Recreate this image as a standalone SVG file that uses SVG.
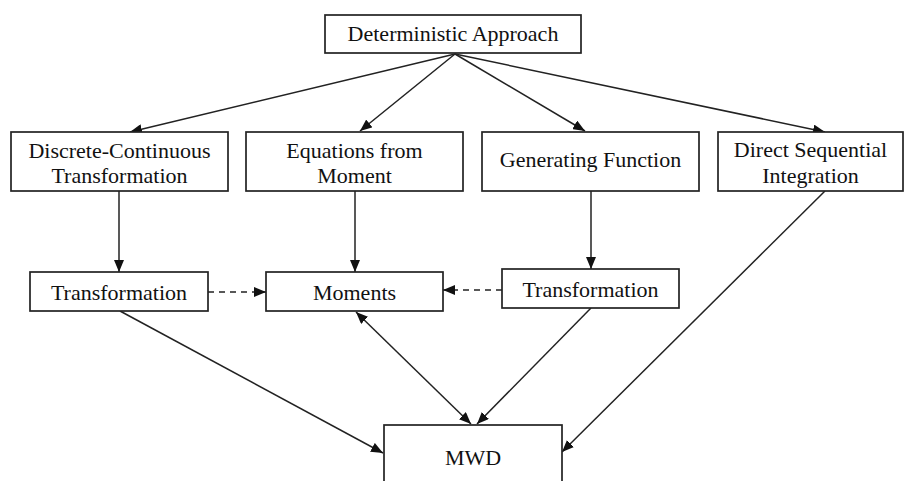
<svg xmlns="http://www.w3.org/2000/svg" width="924" height="481" viewBox="0 0 924 481">
<style>
.box{fill:#fff;stroke:#222;stroke-width:1.7}
.t{font-family:"Liberation Serif","Times New Roman",serif;font-size:22px;fill:#111;text-anchor:middle}
.c{stroke:#222;stroke-width:1.5;fill:none}
.d{stroke-dasharray:6,5}
</style>
<defs>
<marker id="ah" viewBox="0 0 12 10" refX="12" refY="5" markerWidth="12" markerHeight="10" markerUnits="userSpaceOnUse" orient="auto-start-reverse">
<path d="M0,0 L12,5 L0,10 Z" fill="#111"/>
</marker>
</defs>
<rect width="924" height="481" fill="#fff"/>
<g id="connectors">
<line class="c" x1="455" y1="54" x2="130" y2="132" marker-end="url(#ah)"/>
<line class="c" x1="455" y1="54" x2="360" y2="131" marker-end="url(#ah)"/>
<line class="c" x1="455" y1="54" x2="585" y2="131" marker-end="url(#ah)"/>
<line class="c" x1="455" y1="54" x2="825" y2="132" marker-end="url(#ah)"/>
<line class="c" x1="119" y1="191" x2="119" y2="272" marker-end="url(#ah)"/>
<line class="c" x1="355" y1="191" x2="355" y2="272" marker-end="url(#ah)"/>
<line class="c" x1="591" y1="191" x2="591" y2="269" marker-end="url(#ah)"/>
<line class="c d" x1="208" y1="292" x2="266" y2="292" marker-end="url(#ah)"/>
<line class="c d" x1="502" y1="290" x2="443" y2="290" marker-end="url(#ah)"/>
<line class="c" x1="120" y1="311" x2="383" y2="453" marker-end="url(#ah)"/>
<line class="c" x1="356" y1="312" x2="471" y2="424" marker-start="url(#ah)" marker-end="url(#ah)"/>
<line class="c" x1="591" y1="308" x2="477" y2="424" marker-end="url(#ah)"/>
<line class="c" x1="825" y1="191" x2="562" y2="452" marker-end="url(#ah)"/>
</g>
<g id="n-det">
<rect class="box" x="325" y="15" width="256" height="38"/>
<text class="t" x="453" y="41">Deterministic Approach</text>
</g>
<g id="n-dct">
<rect class="box" x="11" y="132" width="217" height="59"/>
<text class="t" x="119.5" y="158">Discrete-Continuous</text>
<text class="t" x="119.5" y="183">Transformation</text>
</g>
<g id="n-eqm">
<rect class="box" x="246" y="132" width="217" height="59"/>
<text class="t" x="354.5" y="158">Equations from</text>
<text class="t" x="354.5" y="183">Moment</text>
</g>
<g id="n-gen">
<rect class="box" x="482" y="132" width="217" height="59"/>
<text class="t" x="590.5" y="167">Generating Function</text>
</g>
<g id="n-dsi">
<rect class="box" x="718" y="132" width="185" height="59"/>
<text class="t" x="810.5" y="157">Direct Sequential</text>
<text class="t" x="810.5" y="183">Integration</text>
</g>
<g id="n-tr1">
<rect class="box" x="30" y="272" width="178" height="39"/>
<text class="t" x="119" y="300">Transformation</text>
</g>
<g id="n-mom">
<rect class="box" x="266" y="272" width="177" height="39"/>
<text class="t" x="354.5" y="300">Moments</text>
</g>
<g id="n-tr2">
<rect class="box" x="502" y="269" width="177" height="39"/>
<text class="t" x="590.5" y="297">Transformation</text>
</g>
<g id="n-mwd">
<rect class="box" x="384" y="425" width="178" height="70"/>
<text class="t" x="473" y="465">MWD</text>
</g>
</svg>
